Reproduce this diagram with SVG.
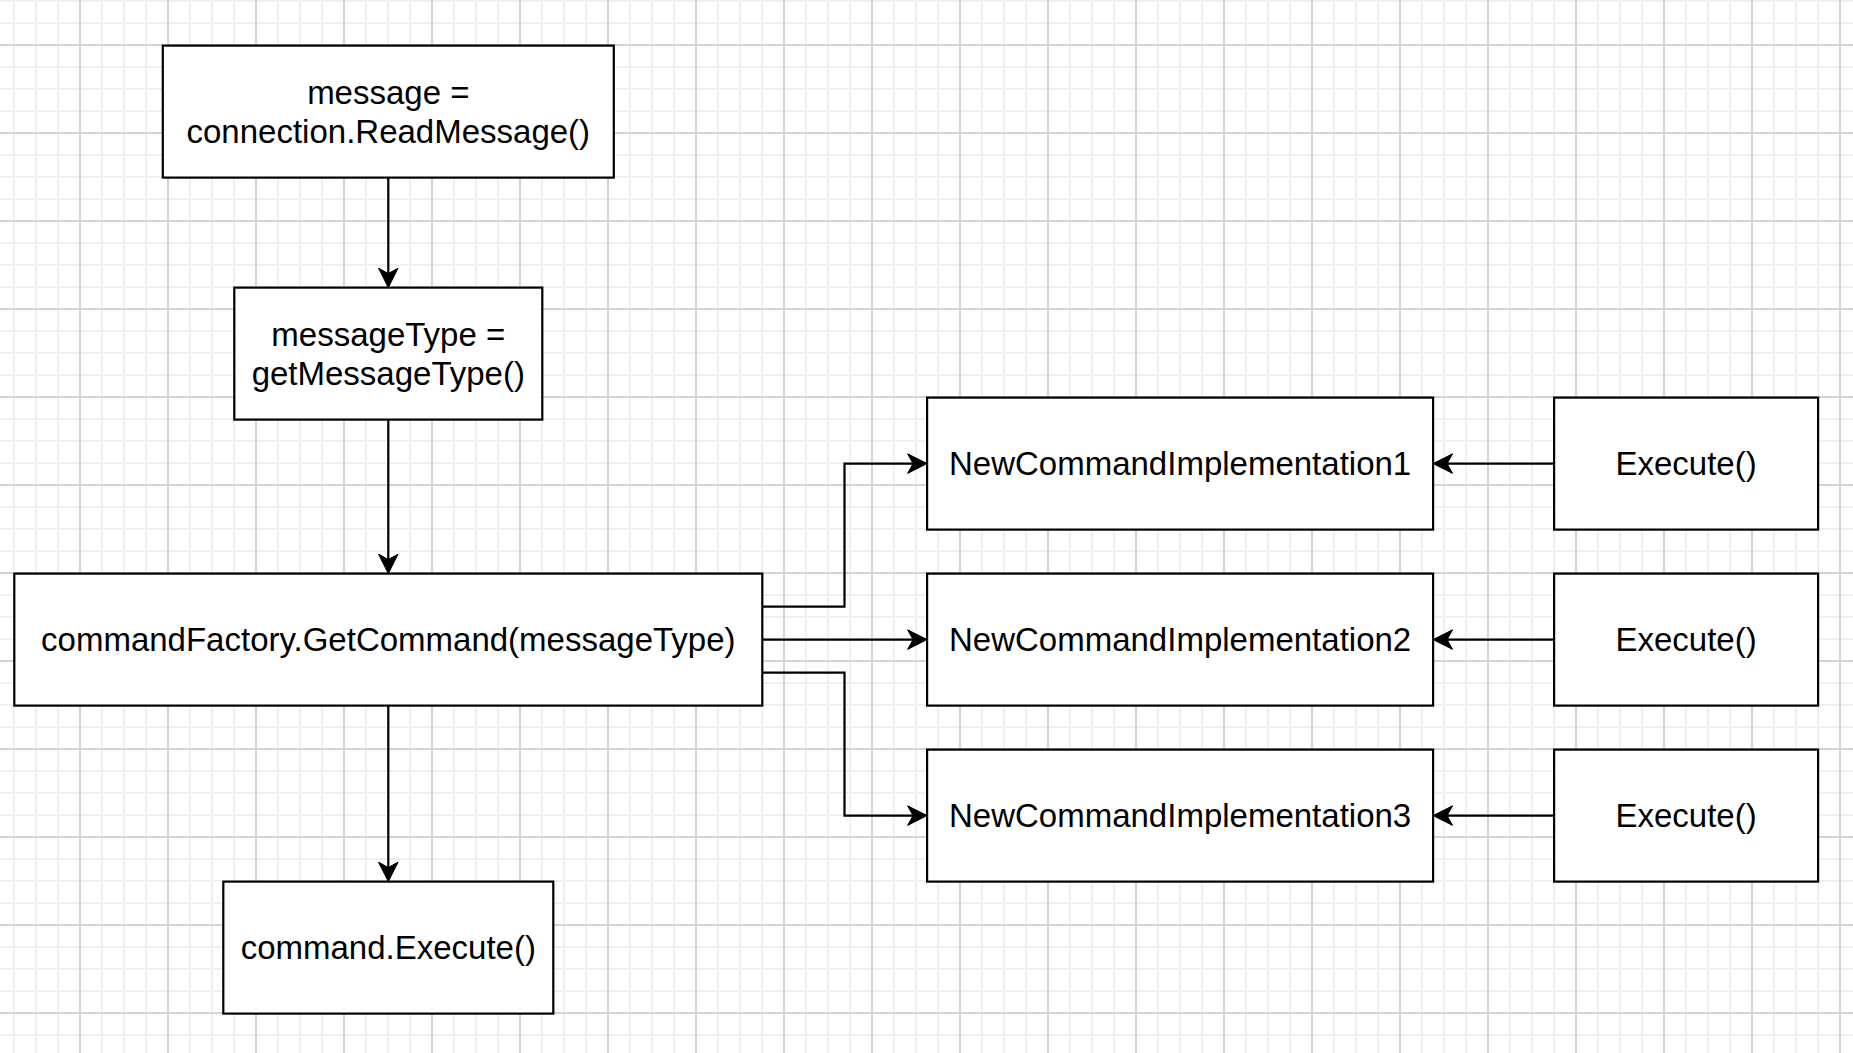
<svg xmlns="http://www.w3.org/2000/svg" width="1853" height="1053" viewBox="0 0 1853 1053">
  <defs>
    <style>
      .box { fill: #ffffff; stroke: #000000; stroke-width: 2.2; }
      .lbl { font-family: "Liberation Sans", Arial, Helvetica, sans-serif; font-size: 33px; fill: #000000; text-anchor: middle; }
      .edge { fill: none; stroke: #000000; stroke-width: 2.2; marker-end: url(#arrow); }
      .minor { stroke: #f0f0f0; stroke-width: 2; }
      .major { stroke: #d4d4d4; stroke-width: 2; }
    </style>
    <!-- classic arrowhead; the stroke stops at the notch and the tip reaches 14px further -->
    <marker id="arrow" viewBox="-20 -11 22 22" refX="-14" refY="0" markerWidth="22" markerHeight="22" markerUnits="userSpaceOnUse" orient="auto">
      <path d="M0,0 L-19.5,-9.8 L-14,0 L-19.5,9.8 Z" fill="#000000" stroke="#000000" stroke-width="1" stroke-linejoin="miter"/>
    </marker>
    <!-- 22px grid, darker line every 4th cell -->
    <pattern id="grid" width="88" height="88" x="3" y="-10" patternUnits="userSpaceOnUse">
      <path class="minor" d="M11,0 V88 M33,0 V88 M55,0 V88 M0,11 H88 M0,33 H88 M0,77 H88"/>
      <path class="major" d="M77,0 V88 M0,55 H88"/>
    </pattern>
  </defs>

  <rect width="1853" height="1053" fill="#ffffff"/>
  <rect width="1853" height="1053" fill="url(#grid)"/>

  <g id="connectors">
    <path class="edge" d="M388.3,177.6 V273.6"/>
    <path class="edge" d="M388.3,419.6 V559.6"/>
    <path class="edge" d="M388.3,705.6 V867.6"/>
    <path class="edge" d="M762.1,606.6 H844.5 V463.6 H913.1"/>
    <path class="edge" d="M762.1,639.6 H913.1"/>
    <path class="edge" d="M762.1,672.6 H844.5 V815.6 H913.1"/>
    <path class="edge" d="M1554.1,463.6 H1447.1"/>
    <path class="edge" d="M1554.1,639.6 H1447.1"/>
    <path class="edge" d="M1554.1,815.6 H1447.1"/>
  </g>

  <g id="read-message">
    <rect class="box" x="162.8" y="45.6" width="451" height="132"/>
    <text class="lbl" x="388.3" y="103.6">message =</text>
    <text class="lbl" x="388.3" y="143.4">connection.ReadMessage()</text>
  </g>

  <g id="message-type">
    <rect class="box" x="234.3" y="287.6" width="308" height="132"/>
    <text class="lbl" x="388.3" y="345.6">messageType =</text>
    <text class="lbl" x="388.3" y="385.4">getMessageType()</text>
  </g>

  <g id="get-command">
    <rect class="box" x="14.3" y="573.6" width="748" height="132"/>
    <text class="lbl" x="388.3" y="651.4">commandFactory.GetCommand(messageType)</text>
  </g>

  <g id="command-execute">
    <rect class="box" x="223.3" y="881.6" width="330" height="132"/>
    <text class="lbl" x="388.3" y="959.4">command.Execute()</text>
  </g>

  <g id="impl-1">
    <rect class="box" x="927.1" y="397.6" width="506" height="132"/>
    <text class="lbl" x="1180.1" y="475.4">NewCommandImplementation1</text>
  </g>

  <g id="impl-2">
    <rect class="box" x="927.1" y="573.6" width="506" height="132"/>
    <text class="lbl" x="1180.1" y="651.4">NewCommandImplementation2</text>
  </g>

  <g id="impl-3">
    <rect class="box" x="927.1" y="749.6" width="506" height="132"/>
    <text class="lbl" x="1180.1" y="827.4">NewCommandImplementation3</text>
  </g>

  <g id="execute-1">
    <rect class="box" x="1554.1" y="397.6" width="264" height="132"/>
    <text class="lbl" x="1686.1" y="475.4">Execute()</text>
  </g>

  <g id="execute-2">
    <rect class="box" x="1554.1" y="573.6" width="264" height="132"/>
    <text class="lbl" x="1686.1" y="651.4">Execute()</text>
  </g>

  <g id="execute-3">
    <rect class="box" x="1554.1" y="749.6" width="264" height="132"/>
    <text class="lbl" x="1686.1" y="827.4">Execute()</text>
  </g>
</svg>
